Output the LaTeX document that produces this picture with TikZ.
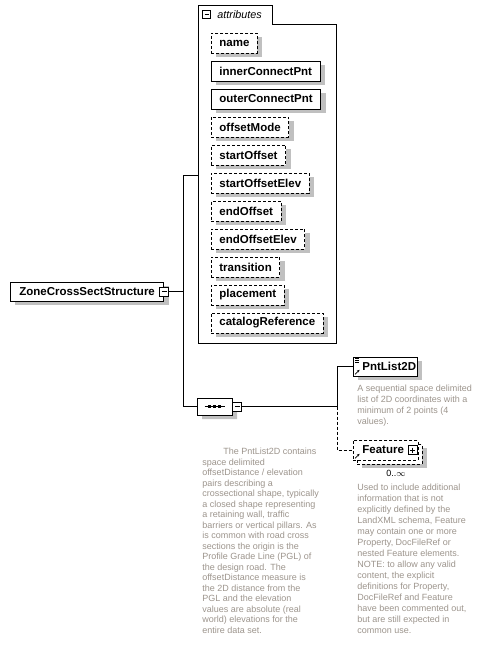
\documentclass[tikz,border=0pt]{standalone}
\usepackage{fontspec}
\setmainfont{Liberation Sans}
\usepackage{tikz}
\usetikzlibrary{shapes.misc, shadows, arrows.meta, calc}
\definecolor{xsshadow}{HTML}{C0C0C0}
\definecolor{xsdoc}{HTML}{9C948C}

\begin{document}
\begin{tikzpicture}[x=1pt, y=-1pt, line width=0.8pt,
    elem/.style={rectangle, draw=black, fill=white, minimum height=20pt, inner xsep=8pt, inner ysep=0pt, font=\fontsize{11.5}{13}\selectfont\bfseries, anchor=west},
    opt/.style={elem, dash pattern=on 3pt off 2pt},
    boxshadow/.style={drop shadow={shadow xshift=5pt, shadow yshift=-4pt, fill=xsshadow, opacity=1}},
    minusbox/.style={rectangle, draw=black, fill=white, line width=0.7pt, minimum size=9pt, inner sep=0pt,
        path picture={\draw[line width=0.7pt] ([xshift=2pt]path picture bounding box.west) -- ([xshift=-2pt]path picture bounding box.east);}},
    plusbox/.style={minusbox,
        path picture={\draw[line width=0.7pt] ([xshift=2pt]path picture bounding box.west) -- ([xshift=-2pt]path picture bounding box.east)
            ([yshift=-2pt]path picture bounding box.north) -- ([yshift=2pt]path picture bounding box.south);}},
    docnote/.style={font=\fontsize{9}{11}\selectfont, text=xsdoc, align=left, anchor=north west, inner sep=0pt},
]
\useasboundingbox (0,0) rectangle (487,650);

% root element
\node[elem, boxshadow, inner xsep=9pt, minimum height=19pt] (main) at (10,291.5) {ZoneCrossSectStructure};
\node[minusbox] (mainminus) at (main.east) {};

% attributes group
\draw (198,5) -- (272,5) -- (272,24) -- (336,24) -- (336,343) -- (198,343) -- cycle;
\node[minusbox, minimum size=8pt] (attrsminus) at (206.5,14.5) {};
\node[anchor=west, inner sep=0pt, font=\fontsize{10.8}{12}\selectfont\itshape] (attrslabel) at (217,14.5) {attributes};
\coordinate (attrsin) at (198,175);

\node[opt, boxshadow] (name) at (211,43) {name};
\node[elem, boxshadow] (innerConnectPnt) at (211,71) {innerConnectPnt};
\node[elem, boxshadow] (outerConnectPnt) at (211,99) {outerConnectPnt};
\node[opt, boxshadow] (offsetMode) at (211,127) {offsetMode};
\node[opt, boxshadow] (startOffset) at (211,155) {startOffset};
\node[opt, boxshadow] (startOffsetElev) at (211,183) {startOffsetElev};
\node[opt, boxshadow] (endOffset) at (211,211) {endOffset};
\node[opt, boxshadow] (endOffsetElev) at (211,239) {endOffsetElev};
\node[opt, boxshadow] (transition) at (211,267) {transition};
\node[opt, boxshadow] (placement) at (211,295) {placement};
\node[opt, boxshadow] (catalogReference) at (211,323) {catalogReference};

% sequence compositor
\node[chamfered rectangle, chamfered rectangle xsep=6pt, draw=black, fill=white, boxshadow,
    minimum width=35pt, minimum height=17pt, inner sep=0pt] (seq) at (214.5,406.5) {};
\draw[line width=0.7pt] ([xshift=-10pt]seq.center) -- ([xshift=10pt]seq.center);
\foreach \dx in {-5,0,5}
    \fill ([xshift=\dx pt]seq.center) +(-1.5,-1.5) rectangle +(1.5,1.5);
\node[minusbox, anchor=west] (seqminus) at (seq.east) {};

% child elements
\node[elem, boxshadow, minimum height=19pt, inner xsep=1pt] (pnt) at (353,366.5) {\hspace*{8pt}PntList2D};
\draw[line width=0.6pt] ([shift={(2,2)}]pnt.north west) -- +(4,0)
    ([shift={(2,4)}]pnt.north west) -- +(4,0)
    ([shift={(2,6)}]pnt.north west) -- +(4,0);
\draw[line width=0.6pt, -{Stealth[length=2.5pt, width=2.5pt]}] ([shift={(2,-2)}]pnt.south west) -- +(4.5,-4.5);

\node[opt, boxshadow, inner xsep=1pt] (featureback) at (357,454) {\hspace*{8pt}\phantom{Feature}\hspace*{13pt}};
\node[opt, inner xsep=1pt] (feature) at (353,450) {\hspace*{8pt}Feature\hspace*{13pt}};
\node[plusbox] (featureplus) at ([xshift=-5.5pt]feature.east) {};
\draw[line width=0.6pt, -{Stealth[length=2.5pt, width=2.5pt]}] ([shift={(2,-2)}]feature.south west) -- +(4.5,-4.5);
\node[font=\fontsize{9}{10}\selectfont, inner sep=0pt] (featurecard) at (396,473) {0..$\infty$};

% connectors
\coordinate (branch) at (183,291.5);
\coordinate (split) at (337,406.5);
\draw (mainminus.east) -- (branch);
\draw (attrsin) -- (attrsin -| branch) -- (branch |- seq.west) -- (seq.west);
\draw (seqminus.east) -- (split) |- (pnt.west);
\draw[dash pattern=on 3pt off 2pt] (split) |- (feature.west);

% documentation
\node[docnote] (pntdoc) at (357,385) {A sequential space delimited\\list of 2D coordinates with a\\minimum of 2 points (4\\values).};
\node[docnote] (featuredoc) at (357,484) {Used to include additional\\information that is not\\explicitly defined by the\\LandXML schema, Feature\\may contain one or more\\Property, DocFileRef or\\nested Feature elements.\\NOTE: to allow any valid\\content, the explicit\\definitions for Property,\\DocFileRef and Feature\\have been commented out,\\but are still expected in\\common use.};
\node[docnote, font=\fontsize{9}{10.5}\selectfont] (seqdoc) at (202,448) {\hspace*{21pt}The PntList2D contains\\space delimited\\offsetDistance / elevation\\pairs describing a\\crossectional shape, typically\\a closed shape representing\\a retaining wall, traffic\\barriers or vertical pillars. As\\is common with road cross\\sections the origin is the\\Profile Grade Line (PGL) of\\the design road. The\\offsetDistance measure is\\the 2D distance from the\\PGL and the elevation\\values are absolute (real\\world) elevations for the\\entire data set.};
\end{tikzpicture}
\end{document}
